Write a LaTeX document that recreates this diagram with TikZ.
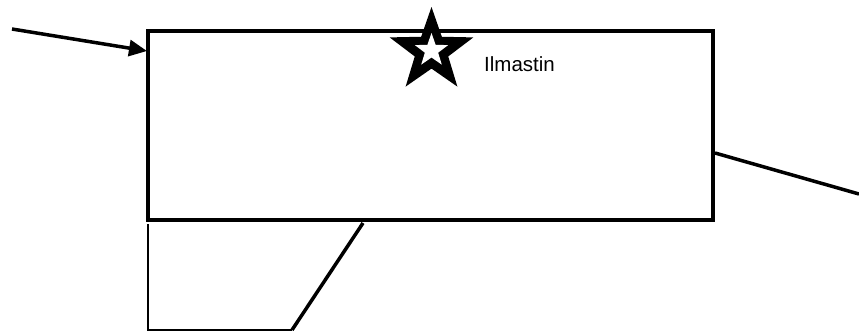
\documentclass[tikz,border=0pt]{standalone}
\usepackage{fontspec}
\setmainfont{Liberation Sans}
\usetikzlibrary{arrows.meta,shapes.geometric}

\tikzset{
	paksu/.style={line width=3.5pt},
	ohut/.style={line width=2.8pt},
	tahti/.style={star,star points=5,star point ratio=2.5,inner sep=0pt}
}

\begin{document}
\begin{tikzpicture}[x=1pt,y=-1pt]
		\useasboundingbox (0,0) rectangle (859,332);
		% huone
		\node[draw,paksu,minimum width=565pt,minimum height=189pt,inner sep=0pt] (huone) at (430.5,125.5) {};
		
		% tulo ja poisto
		\coordinate (tulo) at (12,29);
		\coordinate (tuloPaa) at (147,51);
		\coordinate (poistoAlku) at (715,153);
		\coordinate (poisto) at (859,194);
		\draw[paksu,-{Triangle[length=18pt,width=16pt]}] (tulo) -- (tuloPaa);
		\draw[paksu] (poistoAlku) -- (poisto);
		
		% tahti
		\node[tahti,fill=black,minimum size=88pt] (tahti) at (431.5,51) {};
		\node[tahti,fill=white,minimum size=35pt] (tahtiSisa) at (431.5,50.5) {};
		\node[anchor=west,font=\fontsize{20.5}{24}\selectfont,inner sep=0pt] (ilmastin) at (484,64) {Ilmastin};
		
		% alaosa
		\coordinate (a1) at (363,223);
		\coordinate (a2) at (292,330);
		\coordinate (a3) at (148,330);
		\coordinate (a4) at (148,224);
		\draw[paksu] (a1) -- (a2);
		\draw[ohut] (a2) -- (a3) -- (a4);
	\end{tikzpicture}
\end{document}
